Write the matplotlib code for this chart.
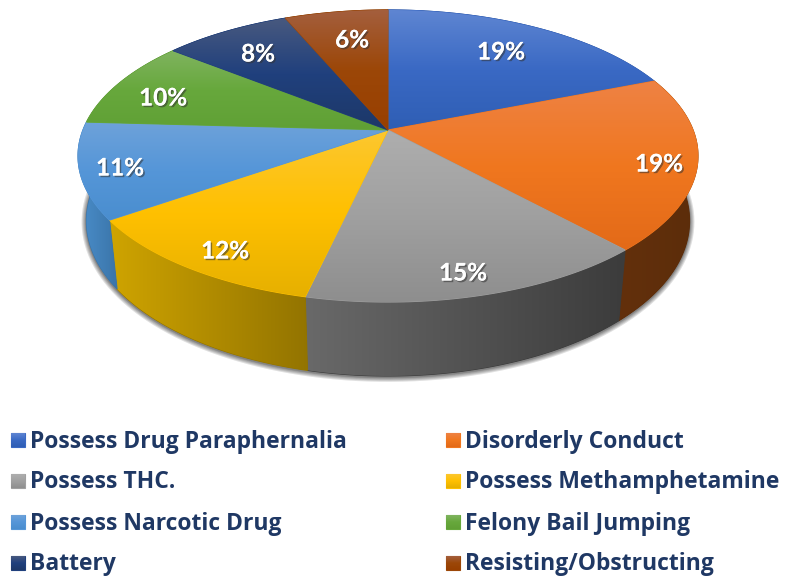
import numpy as np
import matplotlib
matplotlib.use('Agg')
import matplotlib.pyplot as plt
import matplotlib.patheffects as pe
from matplotlib.colors import LinearSegmentedColormap
from matplotlib.patches import Polygon

categories = ['Possess Drug Paraphernalia', 'Disorderly Conduct', 'Possess THC.',
              'Possess Methamphetamine', 'Possess Narcotic Drug', 'Felony Bail Jumping',
              'Battery', 'Resisting/Obstructing']
shares = [19.0, 19.2, 15.4, 11.7, 10.6, 9.8, 7.9, 6.4]

top_colors = [['#5f86d2', '#3a69c4', '#2f5eb4'],
              ['#ee8244', '#f0771f', '#e36a18'],
              ['#aeaeae', '#a0a0a0', '#8e8e8e'],
              ['#fcc730', '#ffc000', '#e6b000'],
              ['#6ea2da', '#5596d8', '#4a8ecf'],
              ['#80b460', '#67a83c', '#60a035'],
              ['#48597f', '#20407d', '#1d3868'],
              ['#a45f3e', '#9c4708', '#983f00']]
wall_colors = [['#2f5597', '#2a4d88'],
               ['#63300c', '#5c2d0a'],
               ['#696969', '#3c3c3c'],
               ['#cfa400', '#937400'],
               ['#4b8fcc', '#3a74a8'],
               ['#4f7f30', '#4f7f30'],
               ['#1b3260', '#1b3260'],
               ['#7a3500', '#7a3500']]
label_xy = [(501, 52), (659, 164), (463, 273), (225, 251),
            (120, 168), (163, 98), (258, 54), (352, 40)]

CX, CY = 388, 130
A, B, K = 141.4, 305, 0.178


def rim(theta, bottom=False):
    s, c = np.sin(theta), np.cos(theta)
    x = CX + B * s / (1 + K * c)
    y = CY - A * c / (1 + K * c)
    if bottom:
        x = CX + 0.973 * (x - CX)
        y = 193.25 + 1.0625 * (y - CY)
    return np.column_stack([x, y])


def fill_gradient(ax, pts, colors, vertical=True, zorder=2):
    cmap = LinearSegmentedColormap.from_list('g', colors)
    x0, y0 = pts.min(axis=0)
    x1, y1 = pts.max(axis=0)
    ramp = np.linspace(0, 1, 256)
    ramp = ramp[:, None] if vertical else ramp[None, :]
    # soft edge under the clipped image
    ax.add_patch(Polygon(pts, closed=True, fc=colors[len(colors) // 2], ec=colors[len(colors) // 2],
                         lw=0.8, zorder=zorder))
    im = ax.imshow(ramp, cmap=cmap, extent=(x0, x1, y1, y0), aspect='auto',
                   interpolation='bilinear', zorder=zorder)
    clip = Polygon(pts, closed=True, transform=ax.transData, fc='none', ec='none')
    im.set_clip_path(clip)


fig = plt.figure(figsize=(7.85, 5.78), dpi=100)
ax = fig.add_axes([0, 0, 1, 1])

# soft shadow under the disc
ring = rim(np.linspace(0, 2 * np.pi, 400), bottom=True)
for lw in [7, 5.5, 4, 2.5, 1.5]:
    ax.plot(ring[:, 0], ring[:, 1] + 1, color='black', alpha=0.12, lw=lw, zorder=1)

edges = np.concatenate([[0], np.cumsum(shares)]) / np.sum(shares) * 2 * np.pi

# side walls first, the top faces cover the hidden part
for i in range(len(shares)):
    t = np.linspace(edges[i], edges[i + 1], 80)
    pts = np.vstack([rim(t), rim(t[::-1], bottom=True)])
    fill_gradient(ax, pts, wall_colors[i], vertical=False, zorder=2)

for i in range(len(shares)):
    t = np.linspace(edges[i], edges[i + 1], 80)
    pts = np.vstack([[CX, CY], rim(t)])
    fill_gradient(ax, pts, top_colors[i], zorder=3)

# percent labels
shadow = [pe.withSimplePatchShadow(offset=(1.2, -1.2), shadow_rgbFace='#333333', alpha=0.55), pe.Normal()]
for i, v in enumerate(shares):
    ax.text(label_xy[i][0], label_xy[i][1], '%d%%' % round(v), color='white', fontsize=17.5,
            family='Lato', weight='bold', ha='center', va='center', zorder=5, path_effects=shadow)

# legend
col_x = [11, 446]
row_y = [440, 481, 522, 563]
for i, name in enumerate(categories):
    x = col_x[i % 2]
    y = row_y[i // 2]
    square = np.array([[x, y - 7], [x + 14, y - 7], [x + 14, y + 7], [x, y + 7]])
    fill_gradient(ax, square, top_colors[i], zorder=3)
    ax.text(x + 19, y + 1.5, name, color='#1f3864', fontsize=16.45, family='Open Sans', weight='bold',
            ha='left', va='center', zorder=5)

ax.set_xlim(0, 785)
ax.set_ylim(578, 0)
ax.axis('off')
fig.savefig('out.png', dpi=100, facecolor='white')
